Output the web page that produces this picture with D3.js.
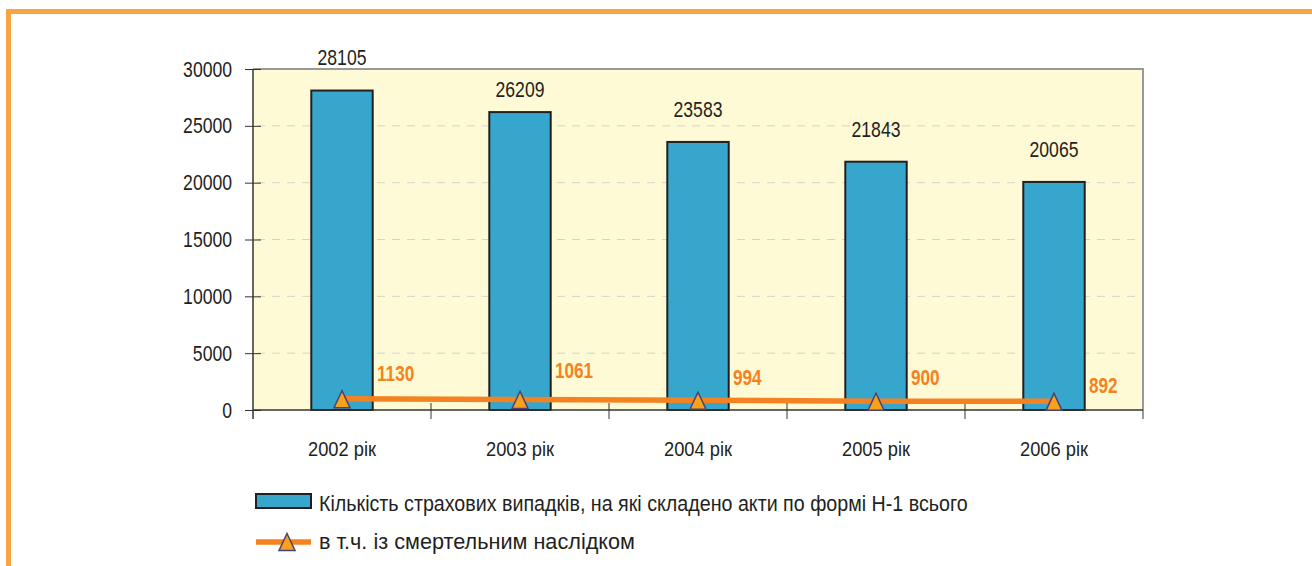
<!DOCTYPE html>
<html>
<head>
<meta charset="utf-8">
<script src="https://cdn.jsdelivr.net/npm/d3@7"></script>
<style>
  body { margin: 0; background: #fff; }
  svg text { font-family: "Liberation Sans", Arial, sans-serif; fill: #231f20; }
</style>
</head>
<body>
<svg id="chart" width="1312" height="566"></svg>
<script>
const years = ["2002 рік", "2003 рік", "2004 рік", "2005 рік", "2006 рік"];
const totalCases = [28105, 26209, 23583, 21843, 20065];
const fatalCases = [1130, 1061, 994, 900, 892];
const yTicks = [0, 5000, 10000, 15000, 20000, 25000, 30000];
const legendLabels = [
    "Кількість страхових випадків, на які складено акти по формі Н-1 всього",
    "в т.ч. із смертельним наслідком"
];
// small label nudges (px), as placed in the original
const barLabelNudge = [-1, 10, 0, 0, 0];
const lineLabelNudge = [-1, -5, 1, 0, 8];

const svg = d3.select("#chart");
const plot = { left: 253, right: 1143, top: 69, bottom: 410 };

const x = d3.scaleBand().domain(years).range([plot.left, plot.right]).padding(0);
const y = d3.scaleLinear().domain([0, 30000]).range([plot.bottom, plot.top]);
const barW = x.bandwidth() * 0.345;
const cx = d => x(d) + x.bandwidth() / 2;

// the original font is a narrow grotesque; squeeze Liberation Sans horizontally
const squeeze = (sel, px, py, s) =>
    sel.attr("x", 0).attr("y", 0)
       .attr("transform", (d, i) => `translate(${px(d, i)},${py(d, i)}) scale(${typeof s === "function" ? s(d, i) : s},1)`);

// orange frame (top + left)
svg.append("path")
    .attr("d", "M 8.5 566 L 8.5 11.5 L 1312 11.5")
    .attr("fill", "none")
    .attr("stroke", "#f9a442")
    .attr("stroke-width", 5);

// plot background
svg.append("rect")
    .attr("x", plot.left).attr("y", plot.top)
    .attr("width", plot.right - plot.left).attr("height", plot.bottom - plot.top)
    .attr("fill", "#fffad6");

// gridlines
svg.append("g").selectAll("line")
    .data(yTicks.filter(t => t > 0 && t < 30000))
    .join("line")
    .attr("x1", plot.left + 4).attr("x2", plot.right - 4)
    .attr("y1", d => y(d)).attr("y2", d => y(d))
    .attr("stroke", "#d6d3c6")
    .attr("stroke-width", 1)
    .attr("stroke-dasharray", "8,7");

// top and right border
svg.append("path")
    .attr("d", `M ${plot.left} ${plot.top} L ${plot.right} ${plot.top} L ${plot.right} ${plot.bottom + 9}`)
    .attr("fill", "none")
    .attr("stroke", "#999")
    .attr("stroke-width", 2);

// bars
svg.append("g").selectAll("rect")
    .data(years)
    .join("rect")
    .attr("x", d => cx(d) - barW / 2)
    .attr("y", (d, i) => y(totalCases[i]))
    .attr("width", barW)
    .attr("height", (d, i) => y(0) - y(totalCases[i]))
    .attr("fill", "#36a6cc")
    .attr("stroke", "#231f20")
    .attr("stroke-width", 2);

// bar labels
svg.append("g").selectAll("text")
    .data(years)
    .join("text")
    .attr("text-anchor", "middle")
    .style("font-size", "22px")
    .text((d, i) => totalCases[i])
    .call(squeeze, d => cx(d), (d, i) => y(totalCases[i]) - 25 + barLabelNudge[i], 0.8);

// y axis
const yAxis = svg.append("g")
    .attr("transform", `translate(${plot.left},0)`)
    .call(d3.axisLeft(y).tickValues(yTicks).tickSize(8).tickPadding(13).tickFormat(d3.format("d")));
yAxis.select(".domain").attr("stroke", "#333").attr("stroke-width", 1.5)
    .attr("d", `M0,${plot.top}V${plot.bottom + 9}`);
yAxis.selectAll(".tick line").attr("stroke", "#333").attr("x1", 8).attr("x2", -8);
yAxis.selectAll(".tick text")
    .style("font-size", "22px").attr("fill", "#231f20")
    .attr("x", -21 / 0.8).attr("transform", "scale(0.8,1)");

// x axis
const xAxis = svg.append("g")
    .attr("transform", `translate(0,${plot.bottom})`)
    .call(d3.axisBottom(x).tickSize(0).tickPadding(32));
xAxis.select(".domain").attr("stroke", "#333").attr("stroke-width", 1.5)
    .attr("d", `M${plot.left},0H${plot.right}`);
xAxis.selectAll(".tick text")
    .style("font-size", "20px").attr("fill", "#231f20")
    .attr("transform", "scale(0.915,1)");
xAxis.selectAll(".tick line").remove();
xAxis.append("g").selectAll("line")
    .data(years.slice(1))
    .join("line")
    .attr("x1", d => x(d)).attr("x2", d => x(d))
    .attr("y1", -7).attr("y2", 9)
    .attr("stroke", "#333");

// fatal-cases line
const line = d3.line().x((d, i) => cx(years[i])).y(d => y(d) + 1.5);
svg.append("path")
    .datum(fatalCases)
    .attr("d", line)
    .attr("fill", "none")
    .attr("stroke", "#f58220")
    .attr("stroke-width", 5.5);

const tri = "M0,-8.5L8,8.5L-8,8.5Z";
svg.append("g").selectAll("path")
    .data(fatalCases)
    .join("path")
    .attr("d", tri)
    .attr("transform", (d, i) => `translate(${cx(years[i])},${y(d) + 2})`)
    .attr("fill", "#f9a11b")
    .attr("stroke", "#4a4272")
    .attr("stroke-width", 1.5);

svg.append("g").selectAll("text")
    .data(fatalCases)
    .join("text")
    .style("font-size", "22px")
    .style("font-weight", "bold")
    .style("fill", "#f58220")
    .text(d => d)
    .call(squeeze, (d, i) => cx(years[i]) + 35, (d, i) => y(d) - 15 + lineLabelNudge[i], 0.78);

// legend
const lg = svg.append("g").attr("transform", "translate(256,0)");
lg.append("rect")
    .attr("x", 0).attr("y", 494).attr("width", 55).attr("height", 14)
    .attr("fill", "#36a6cc").attr("stroke", "#231f20").attr("stroke-width", 2);
lg.append("line")
    .attr("x1", 0).attr("x2", 55).attr("y1", 542).attr("y2", 542)
    .attr("stroke", "#f58220").attr("stroke-width", 5.5);
lg.append("path")
    .attr("d", tri)
    .attr("transform", "translate(31,542)")
    .attr("fill", "#f9a11b").attr("stroke", "#4a4272").attr("stroke-width", 1.5);
lg.selectAll("text.lbl")
    .data(legendLabels)
    .join("text")
    .attr("class", "lbl")
    .style("font-size", "22px")
    .text(d => d)
    .call(squeeze, () => 63, (d, i) => 511 + i * 38, (d, i) => i === 0 ? 0.894 : 0.985);
</script>
</body>
</html>
